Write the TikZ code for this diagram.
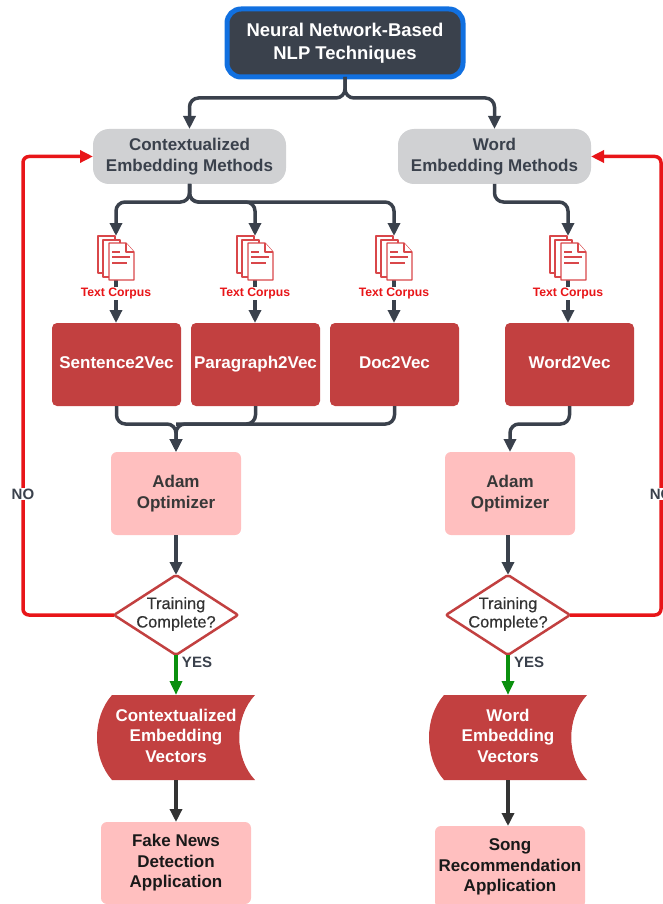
\documentclass[tikz,border=0pt]{standalone}
\usepackage{fontspec}
\setmainfont{Liberation Sans}
\newfontfamily\decisionfont[FakeBold=0.4]{Liberation Sans}
\usetikzlibrary{arrows.meta,calc}
\definecolor{slatedark}{HTML}{3A414C}
\definecolor{topblue}{HTML}{1170E0}
\definecolor{greybox}{HTML}{D0D1D3}
\definecolor{redbox}{HTML}{C24040}
\definecolor{pinkbox}{HTML}{FFBFBF}
\definecolor{brightred}{HTML}{E81518}
\definecolor{yesgreen}{HTML}{0A900E}
\definecolor{iconred}{HTML}{D9474A}
\tikzset{
    boxtext/.style={align=center,inner sep=0pt,outer sep=0pt,font=\fontsize{17}{20.5}\selectfont\bfseries},
    topbox/.style={boxtext,draw=topblue,line width=5pt,fill=slatedark,text=white,rounded corners=14pt,minimum width=236pt,minimum height=68pt,font=\fontsize{18.45}{23}\selectfont\bfseries},
    greyrect/.style={boxtext,fill=greybox,text=slatedark,rounded corners=16pt,minimum width=193pt,minimum height=55pt},
    redrect/.style={boxtext,fill=redbox,text=white,rounded corners=5pt,minimum width=129pt,minimum height=83pt,execute at begin node=\strut},
    pinkrect/.style={boxtext,fill=pinkbox,text=black!78,rounded corners=6pt,minimum width=130pt,minimum height=83pt},
    apprect/.style={pinkrect,text=black!90,minimum width=150pt,minimum height=82pt},
    decision/.style={boxtext,font=\fontsize{16.4}{18.5}\selectfont\decisionfont,text=black!80},
    diamondline/.style={draw=redbox,fill=white,line width=2.5pt,rounded corners=2pt},
    corpus/.style={inner sep=1pt,outer sep=0pt,fill=white,text=brightred,font=\fontsize{12.2}{14}\selectfont\bfseries},
    flag/.style={inner sep=1pt,fill=white,text=slatedark,font=\fontsize{15}{17}\selectfont\bfseries},
    flow/.style={draw=slatedark,line width=3.5pt,rounded corners=9pt,-{Triangle[length=13pt,width=12pt]}},
    backflow/.style={draw=brightred,line width=3.5pt,rounded corners=6pt,-{Triangle[length=13pt,width=12pt]}},
    yesflow/.style={draw=yesgreen,line width=3.5pt,-{Triangle[length=14pt,width=12pt]}},
    sheet/.style={draw=iconred,line width=1.2pt,fill=white,line join=round},
}
\newcommand{\docicon}[1]{
        \begin{scope}[shift={(#1)}]
            \draw[sheet] (-18,30) -- (-18,-7) -- (-1,-7) -- (-1,30) -- cycle;
            \draw[sheet] (-13,34) -- (-13,-3) -- (4,-3) -- (4,34) -- cycle;
            \draw[sheet] (-7,37) -- (-7,0) -- (10,0) -- (18,9) -- (18,37) -- cycle;
            \draw[sheet] (10,0) -- (10,9) -- (18,9);
            \draw[iconred,line width=1.2pt] (-4,9) -- (4,9);
            \draw[iconred,line width=1.2pt] (-4,14) -- (14,14);
            \draw[iconred,line width=1.2pt] (-4,20) -- (11,20);
        \end{scope}
}
\newcommand{\storebox}[3]{
        \fill[redbox] ([shift={(-64,-42.5)}]#2) .. controls ([shift={(-84,-20)}]#2) and ([shift={(-84,20)}]#2) .. ([shift={(-64,42.5)}]#2) -- ([shift={(79,42.5)}]#2) .. controls ([shift={(58,20)}]#2) and ([shift={(58,-20)}]#2) .. ([shift={(79,-42.5)}]#2) -- cycle;
        \node[boxtext,text=white,minimum width=158pt,minimum height=85pt,yshift=2pt] (#1) at (#2) {#3};
}
\begin{document}
\begin{tikzpicture}[x=1pt,y=-1pt]
        \useasboundingbox (0,0) rectangle (662,904);

        \node[topbox] (top) at (345,43) {Neural Network-Based\\NLP Techniques};
        \node[greyrect] (ctx) at (189.5,156.5) {Contextualized\\Embedding Methods};
        \node[greyrect] (word) at (494.5,156.5) {Word\\Embedding Methods};

        \coordinate (topfork) at (345,98);
        \draw[flow] (top.south) -- (topfork) -| (ctx.north);
        \draw[flow] (top.south) -- (topfork) -| (word.north);

        \coordinate (iconA) at (116,280);
        \coordinate (iconB) at (255,280);
        \coordinate (iconC) at (394,280);
        \coordinate (iconD) at (568,280);
        \coordinate (iconAtop) at (116,236);
        \coordinate (iconBtop) at (255,236);
        \coordinate (iconCtop) at (394,236);
        \coordinate (iconDtop) at (568,236);

        \node[redrect] (sent) at (116.5,364.5) {Sentence2Vec};
        \node[redrect] (para) at (255.5,364.5) {Paragraph2Vec};
        \node[redrect] (doc) at (394.5,364.5) {Doc2Vec};
        \node[redrect] (wvec) at (569.5,364.5) {Word2Vec};

        \coordinate (ctxfork) at (189.5,202);
        \draw[flow] (ctx.south) -- (ctxfork) -| (iconAtop);
        \draw[flow] (ctx.south) -- (ctxfork) -| (iconBtop);
        \draw[flow] (ctx.south) -- (ctxfork) -| (iconCtop);
        \draw[flow] (word.south) -- (494.5,202) -| (iconDtop);

        \draw[flow] (iconA) -- (iconA |- sent.north);
        \draw[flow] (iconB) -- (iconB |- para.north);
        \draw[flow] (iconC) -- (iconC |- doc.north);
        \draw[flow] (iconD) -- (iconD |- wvec.north);

        \docicon{116,243}
        \docicon{255,243}
        \docicon{394,243}
        \docicon{568,243}

        \node[corpus] (labelA) at (116,293.5) {Text Corpus};
        \node[corpus] (labelB) at (255,293.5) {Text Corpus};
        \node[corpus] (labelC) at (394,293.5) {Text Corpus};
        \node[corpus] (labelD) at (568,293.5) {Text Corpus};

        \node[pinkrect] (adamL) at (176,493.5) {Adam\\Optimizer};
        \node[pinkrect] (adamR) at (510,493.5) {Adam\\Optimizer};

        \coordinate (mergeL) at (176,424);
        \draw[flow] (sent.south) |- (mergeL) -- (adamL.north);
        \draw[flow] (doc.south) |- (mergeL) -- (adamL.north);
        \draw[flow,-] (para.south) |- (mergeL);
        \draw[flow] (wvec.south) |- (510,424) -- (adamR.north);

        \coordinate (dmL) at (176,614);
        \coordinate (dmR) at (508,614);
        \draw[diamondline] (114,615) -- (176,575) -- (238,615) -- (176,655) -- cycle;
        \draw[diamondline] (446,615) -- (508,575) -- (570,615) -- (508,655) -- cycle;
        \node[decision] (trainL) at (dmL) {Training\\Complete?};
        \node[decision] (trainR) at (dmR) {Training\\Complete?};

        \draw[flow,rounded corners=0pt] (adamL.south) -- (176,575);
        \draw[flow,rounded corners=0pt] (508,535) -- (508,575);

        \coordinate (sideL) at (23,494);
        \coordinate (sideR) at (661,494);
        \draw[backflow] (114,615) -| (sideL) |- (ctx.west);
        \draw[backflow] (570,615) -| (sideR) |- (word.east);
        \node[flag] (noL) at (sideL) {NO};
        \node[flag] (noR) at (sideR) {NO};

        \storebox{vecL}{176,737.5}{Contextualized\\Embedding\\Vectors}
        \storebox{vecR}{508,737.5}{Word\\Embedding\\Vectors}

        \draw[yesflow] (176,655) -- ([yshift=-2pt]vecL.north);
        \draw[yesflow] (508,655) -- ([yshift=-2pt]vecR.north);
        \node[flag] (yesL) at (197,662) {YES};
        \node[flag] (yesR) at (529,662) {YES};

        \node[apprect] (appL) at (176,863) {Fake News\\Detection\\Application};
        \node[apprect] (appR) at (510,867) {Song\\Recommendation\\Application};

        \draw[flow,draw=black!80,rounded corners=0pt] ([yshift=-2pt]vecL.south) -- (appL.north);
        \draw[flow,draw=black!80,rounded corners=0pt] ([yshift=-2pt]vecR.south) -- (vecR.south |- appR.north);
    \end{tikzpicture}
\end{document}
